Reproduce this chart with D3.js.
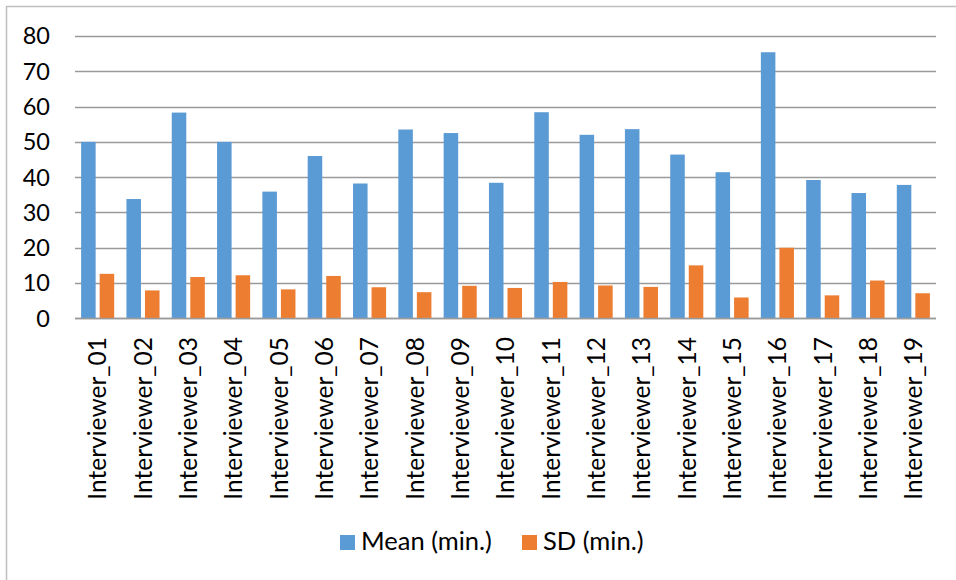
<!DOCTYPE html>
<html>
<head>
<meta charset="utf-8">
<script src="https://cdn.jsdelivr.net/npm/d3@7"></script>
<style>
  body { margin: 0; background: #fff; }
  text { font-family: Lato, "Open Sans", sans-serif; fill: #000; }
</style>
</head>
<body>
<div id="chart"></div>
<script>
// Datos
const interviewers = ["Interviewer_01", "Interviewer_02", "Interviewer_03", "Interviewer_04", "Interviewer_05",
  "Interviewer_06", "Interviewer_07", "Interviewer_08", "Interviewer_09", "Interviewer_10",
  "Interviewer_11", "Interviewer_12", "Interviewer_13", "Interviewer_14", "Interviewer_15",
  "Interviewer_16", "Interviewer_17", "Interviewer_18", "Interviewer_19"];
const meanMin = [50.0, 33.8, 58.3, 50.0, 35.9, 46.0, 38.2, 53.5, 52.5, 38.4, 58.4, 52.0, 53.6, 46.4, 41.4, 75.4, 39.2, 35.5, 37.8];
const sdMin = [12.6, 7.9, 11.7, 12.2, 8.2, 12.0, 8.8, 7.4, 9.2, 8.6, 10.3, 9.3, 8.9, 15.0, 5.9, 20.0, 6.5, 10.7, 7.1];
const seriesNames = ["Mean (min.)", "SD (min.)"];
const yTicks = [0, 10, 20, 30, 40, 50, 60, 70, 80];

const width = 956, height = 580;
const plot = { left: 75, right: 936, top: 36, bottom: 318.3 };
const colors = ["#5b9bd5", "#ed7d31"];

const svg = d3.select('#chart').append('svg')
  .attr('width', width)
  .attr('height', height);

// Borde exterior del gráfico
svg.append('rect')
  .attr('x', 6.5).attr('y', 6.5)
  .attr('width', 980).attr('height', 600)
  .attr('fill', 'none')
  .attr('stroke', '#bfbfbf')
  .attr('stroke-width', 1.5);

const y = d3.scaleLinear().domain([0, 80]).range([plot.bottom, plot.top]);
const x0 = d3.scaleBand().domain(interviewers).range([plot.left, plot.right])
  .paddingInner(0.27).paddingOuter(0.135);
const x1 = d3.scaleBand().domain(seriesNames).range([0, x0.bandwidth()]).paddingInner(0.216);

// Líneas de guía horizontales
svg.append('g')
  .selectAll('line')
  .data(yTicks)
  .join('line')
  .attr('x1', plot.left).attr('x2', plot.right)
  .attr('y1', d => Math.round(y(d)) + 0.5).attr('y2', d => Math.round(y(d)) + 0.5)
  .attr('stroke', '#9a9a9a')
  .attr('stroke-width', 1.3);

// Etiquetas del eje Y
svg.append('g')
  .selectAll('text')
  .data(yTicks)
  .join('text')
  .attr('x', 50)
  .attr('y', d => y(d))
  .attr('dy', '0.36em')
  .attr('text-anchor', 'end')
  .attr('font-size', '23.5px')
  .text(d => d);

// Barras
const rows = interviewers.map((name, i) => ({ name, values: [meanMin[i], sdMin[i]] }));
const groups = svg.append('g')
  .selectAll('g')
  .data(rows)
  .join('g')
  .attr('transform', d => `translate(${x0(d.name)},0)`);

groups.selectAll('rect')
  .data(d => d.values.map((v, k) => ({ key: seriesNames[k], value: v, k })))
  .join('rect')
  .attr('x', d => x1(d.key))
  .attr('y', d => y(d.value))
  .attr('width', x1.bandwidth())
  .attr('height', d => y(0) - y(d.value))
  .attr('fill', d => colors[d.k]);

// Eje 0 por encima de las barras
svg.append('line')
  .attr('x1', plot.left).attr('x2', plot.right)
  .attr('y1', Math.round(y(0)) + 0.5).attr('y2', Math.round(y(0)) + 0.5)
  .attr('stroke', '#9a9a9a')
  .attr('stroke-width', 1.3);

// Etiquetas del eje X (rotadas)
svg.append('g')
  .selectAll('text')
  .data(interviewers)
  .join('text')
  .attr('transform', d => `translate(${x0(d) + x0.bandwidth() / 2},337) rotate(-90)`)
  .attr('dy', '0.36em')
  .attr('text-anchor', 'end')
  .attr('font-size', '24.5px')
  .text(d => d);

// Leyenda
const legendPos = [340, 522];
const legend = svg.append('g')
  .selectAll('g')
  .data(seriesNames)
  .join('g')
  .attr('transform', (d, i) => `translate(${legendPos[i]},535)`);
legend.append('rect')
  .attr('width', 15).attr('height', 15)
  .attr('fill', (d, i) => colors[i]);
legend.append('text')
  .attr('x', 21)
  .attr('y', 15)
  .attr('font-size', '25.5px')
  .text(d => d);
</script>
</body>
</html>
